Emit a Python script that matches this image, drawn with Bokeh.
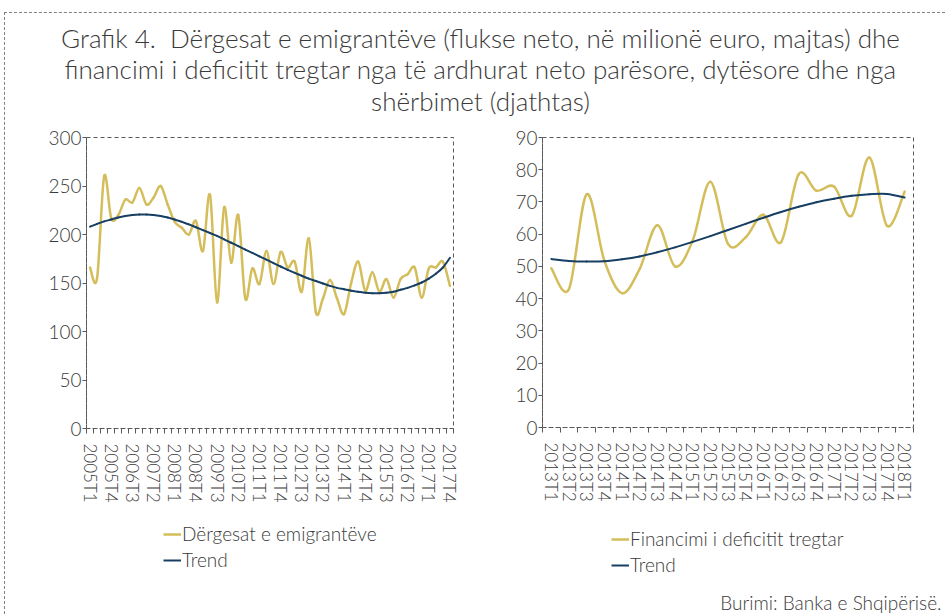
import numpy as np
from math import pi
from bokeh.plotting import figure
from bokeh.models import (Range1d, FixedTicker, Legend, LegendItem, Label,
                          ColumnDataSource)
from bokeh.layouts import column, row
from bokeh.embed import file_html
from bokeh.resources import INLINE

# ---------------- data ----------------
quarters_left = [f"{y}T{q}" for y in range(2005, 2018) for q in range(1, 5)]
remittances = [166, 155, 260, 217, 220, 236, 233, 248, 231, 238,
               250, 231, 213, 207, 200, 214, 183, 241, 130, 228,
               171, 220, 134, 165, 149, 183, 149, 182, 166, 172,
               141, 196, 120, 134, 153, 134, 118, 150, 172, 142,
               161, 141, 154, 135, 154, 159, 166, 135, 165, 166,
               172, 147]
remittances_trend = [208, 211, 213.5, 215.5, 217.5, 219, 220, 220.5, 220.5, 220,
                     219, 217.5, 215.5, 213, 210.5, 207.5, 204.5, 201.5, 198.5, 195,
                     191.5, 188, 184.5, 181, 177.5, 174, 170.5, 167, 163.5, 160.5,
                     157.5, 154.5, 152, 149.5, 147, 145, 143.5, 142, 141, 140,
                     139.5, 139.5, 140, 141, 143, 145, 147.5, 150.5, 154.5, 159.5,
                     166, 176]

quarters_right = [f"{y}T{q}" for y in range(2013, 2018) for q in range(1, 5)] + ["2018T1"]
financing = [49.4, 43.0, 72.4, 51.8, 41.7, 49.2, 62.8, 50.0, 58.0, 76.3,
             57.0, 59.0, 66.0, 57.5, 78.6, 73.5, 74.8, 65.7, 83.8, 62.6, 73.2]
financing_trend = [52.3, 51.7, 51.5, 51.6, 52.2, 53.1, 54.4, 55.9, 57.6, 59.4,
                   61.3, 63.2, 65.1, 66.9, 68.5, 69.9, 71.0, 71.9, 72.4, 72.5, 71.4]

left_ticks = [0, 50, 100, 150, 200, 250, 300]
right_ticks = [0, 10, 20, 30, 40, 50, 60, 70, 80, 90]

title_lines = ["Grafik 4.\u00a0 Dërgesat e emigrantëve (flukse neto, në milionë euro, majtas) dhe",
               "financimi i deficitit tregtar nga të ardhurat neto parësore, dytësore dhe nga",
               "shërbimet (djathtas)"]
source_text = "Burimi: Banka e Shqipërisë."
left_names = ["Dërgesat e emigrantëve", "Trend"]
right_names = ["Financimi i deficitit tregtar", "Trend"]

# ---------------- style ----------------
FONT = "Lato Light"
GOLD = "#D4BD5B"
NAVY = "#173E63"
GREY = "#595959"
TXT = "#3A3A3A"


def bezier_source(ys):
    y = np.asarray(ys, float)
    x = np.arange(len(y), dtype=float)
    xp = np.concatenate([[x[0]], x, [x[-1]]])
    yp = np.concatenate([[y[0]], y, [y[-1]]])
    i = np.arange(len(y) - 1)
    return ColumnDataSource(dict(
        x0=x[:-1], y0=y[:-1], x1=x[1:], y1=y[1:],
        cx0=x[:-1] + (xp[i + 2] - xp[i]) / 6, cy0=y[:-1] + (yp[i + 2] - yp[i]) / 6,
        cx1=x[1:] - (xp[i + 3] - xp[i + 1]) / 6, cy1=y[1:] - (yp[i + 3] - yp[i + 1]) / 6,
    ))


def make_panel(mb_left, mb_right, mb_top, mb_bottom, frame_w, frame_h, labels, label_step,
               series, trend, yticks):
    n = len(labels)
    p = figure(frame_width=frame_w, frame_height=frame_h, toolbar_location=None,
               output_backend="svg",
               x_range=Range1d(-0.5, n - 0.5), y_range=Range1d(yticks[0], yticks[-1]),
               min_border_left=mb_left, min_border_top=mb_top,
               min_border_right=mb_right, min_border_bottom=mb_bottom)
    p.xgrid.visible = False
    p.ygrid.visible = False
    p.outline_line_color = GREY
    p.outline_line_dash = "4 3"
    p.outline_line_width = 1
    p.background_fill_color = None
    p.border_fill_color = None

    major = list(range(0, n, label_step))
    xa = p.xaxis[0]
    xa.ticker = FixedTicker(ticks=major, minor_ticks=[i - 0.5 for i in range(n + 1)])
    xa.major_label_overrides = {i: labels[i] for i in major}
    xa.major_label_orientation = -pi / 2
    xa.major_label_text_font = FONT
    xa.major_label_text_font_size = "17px"
    xa.major_label_text_color = TXT
    xa.major_label_standoff = 10
    xa.major_tick_out = 0
    xa.major_tick_in = 0
    xa.minor_tick_out = 5
    xa.minor_tick_in = 0
    xa.minor_tick_line_color = GREY
    xa.axis_line_color = GREY
    xa.axis_line_dash = "4 3"

    ya = p.yaxis[0]
    ya.ticker = FixedTicker(ticks=yticks)
    ya.major_label_text_font = FONT
    ya.major_label_text_font_size = "19px"
    ya.major_label_text_color = TXT
    ya.major_label_standoff = 1
    ya.major_tick_out = 4
    ya.major_tick_in = 0
    ya.major_tick_line_color = GREY
    ya.minor_tick_out = 0
    ya.axis_line_color = GREY
    ya.axis_line_dash = "4 3"

    p.bezier(x0="x0", y0="y0", x1="x1", y1="y1", cx0="cx0", cy0="cy0",
             cx1="cx1", cy1="cy1", source=bezier_source(series),
             line_color=GOLD, line_width=2.5, line_cap="round")
    p.bezier(x0="x0", y0="y0", x1="x1", y1="y1", cx0="cx0", cy0="cy0",
             cx1="cx1", cy1="cy1", source=bezier_source(trend),
             line_color=NAVY, line_width=2, line_cap="round")
    return p


def bare_figure(width, height):
    f = figure(width=width, height=height, toolbar_location=None, output_backend="svg",
               x_range=Range1d(0, 1), y_range=Range1d(0, 1), min_border=0,
               x_axis_location=None, y_axis_location=None, outline_line_color=None)
    f.xgrid.visible = False
    f.ygrid.visible = False
    f.background_fill_color = None
    f.border_fill_color = None
    return f


# header with the title
hdr = bare_figure(940, 105)
for k, line in enumerate(title_lines):
    hdr.add_layout(Label(x=475, y=81 - 31.5 * k, x_units="screen", y_units="screen",
                         text=line, text_align="center", text_baseline="middle",
                         text_font=FONT, text_font_size="26px", text_color=TXT))

p1 = make_panel(81, 37, 19, 82, 367, 291, quarters_left, 3, remittances,
                remittances_trend, left_ticks)
p2 = make_panel(52, 32, 19, 83, 371, 290, quarters_right, 1, financing,
                financing_trend, right_ticks)

# footer with legends and source
ftr = bare_figure(940, 104)


def add_legend(fig, names, series, trend, xy):
    xs = list(range(len(series)))
    k1 = fig.line(xs, series, line_color=GOLD, line_width=2.5, visible=False)
    k2 = fig.line(xs, trend, line_color=NAVY, line_width=2, visible=False)
    leg = Legend(items=[LegendItem(label=names[0], renderers=[k1]),
                        LegendItem(label=names[1], renderers=[k2])],
                 location=xy, orientation="vertical",
                 background_fill_alpha=0, border_line_color=None,
                 padding=0, margin=0, spacing=3, label_height=20,
                 glyph_height=20, glyph_width=18, label_standoff=1,
                 label_text_font=FONT, label_text_font_size="19px",
                 label_text_color=TXT)
    fig.add_layout(leg, "center")


add_legend(ftr, left_names, remittances, remittances_trend, (158, 43))
add_legend(ftr, right_names, financing, financing_trend, (606, 38))
ftr.add_layout(Label(x=936, y=12, x_units="screen", y_units="screen", text=source_text,
                     text_align="right", text_baseline="middle", text_font=FONT,
                     text_font_size="19px", text_color=TXT))

layout = column(hdr, row(p1, p2), ftr, margin=(12, 0, 0, 4),
                styles={"border-top": "1px dashed #808080", "border-left": "1px dashed #808080"})

open("out.html", "w").write(file_html(layout, INLINE))
